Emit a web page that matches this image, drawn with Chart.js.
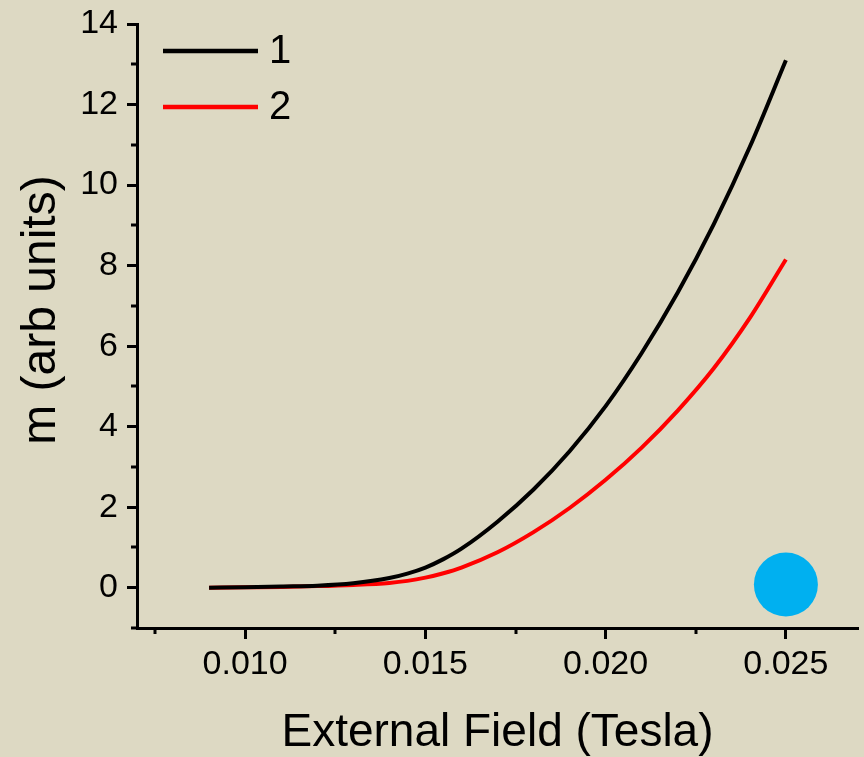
<!DOCTYPE html>
<html>
<head>
<meta charset="utf-8">
<script src="https://cdn.jsdelivr.net/npm/chart.js@4.4.1/dist/chart.umd.min.js"></script>
<style>
  html, body { margin: 0; padding: 0; background: #DDD9C3; }
  #wrap { width: 864px; height: 757px; position: relative; }
</style>
</head>
<body>
<div id="wrap"><canvas id="c" width="864" height="757"></canvas></div>
<script>
// ---- data ----
const field1  = [0.009, 0.010, 0.011, 0.012, 0.013, 0.014, 0.0145, 0.015, 0.0155, 0.016, 0.017, 0.018, 0.019, 0.020, 0.021, 0.022, 0.023, 0.024, 0.025];
const series1 = [0.00, 0.01, 0.03, 0.05, 0.11, 0.24, 0.35, 0.50, 0.71, 0.97, 1.64, 2.44, 3.39, 4.51, 5.83, 7.33, 9.03, 10.95, 13.10];
const field2  = [0.009, 0.010, 0.011, 0.012, 0.013, 0.014, 0.0145, 0.015, 0.0155, 0.016, 0.017, 0.018, 0.019, 0.020, 0.021, 0.022, 0.023, 0.024, 0.025];
const series2 = [0.00, 0.01, 0.02, 0.04, 0.07, 0.12, 0.17, 0.25, 0.36, 0.50, 0.88, 1.38, 1.98, 2.68, 3.48, 4.40, 5.45, 6.70, 8.15];
const seriesNames = ['1', '2'];
const markerField = [0.025];
const markerValue = [0.08];
const xMajorTicks = [0.010, 0.015, 0.020, 0.025];
const xMinorTicks = [0.0075, 0.0125, 0.0175, 0.0225];
const yMajorTicks = [0, 2, 4, 6, 8, 10, 12, 14];
const yMinorTicks = [-1, 1, 3, 5, 7, 9, 11, 13];
const xLabel = 'External Field (Tesla)';
const yLabel = 'm (arb units)';

const FONT = '"Liberation Sans", Arial, sans-serif';

const toPts = (xs, ys) => xs.map((x, i) => ({ x: x, y: ys[i] }));

const extras = {
  id: 'extras',
  afterDraw(chart) {
    const ctx = chart.ctx;
    const xs = chart.scales.x, ys = chart.scales.y;
    const ca = chart.chartArea;
    ctx.save();
    // minor ticks
    ctx.strokeStyle = '#000';
    ctx.lineWidth = 3;
    ctx.lineCap = 'butt';
    xMinorTicks.forEach(v => {
      const px = Math.round(xs.getPixelForValue(v));
      ctx.beginPath(); ctx.moveTo(px, ca.bottom); ctx.lineTo(px, ca.bottom + 6); ctx.stroke();
    });
    yMinorTicks.forEach(v => {
      const py = Math.round(ys.getPixelForValue(v));
      ctx.beginPath(); ctx.moveTo(ca.left, py); ctx.lineTo(ca.left - 6, py); ctx.stroke();
    });
    // y axis title
    ctx.fillStyle = '#000';
    ctx.font = '48px ' + FONT;
    ctx.textAlign = 'center';
    ctx.textBaseline = 'middle';
    ctx.translate(42, 310);
    ctx.rotate(-Math.PI / 2);
    ctx.fillText(yLabel, 0, 0);
    ctx.restore();

    // legend inside plot
    ctx.save();
    ctx.font = '40px ' + FONT;
    ctx.textBaseline = 'middle';
    ctx.textAlign = 'left';
    chart.data.datasets.slice(0, 2).forEach((ds, i) => {
      const y = ca.top + 27 + i * 56;
      ctx.strokeStyle = ds.borderColor;
      ctx.lineWidth = 4.5;
      ctx.beginPath(); ctx.moveTo(ca.left + 26, y); ctx.lineTo(ca.left + 121, y); ctx.stroke();
      ctx.fillStyle = '#000';
      ctx.fillText(ds.label, ca.left + 132, y + 1);
    });
    ctx.restore();
  }
};

new Chart(document.getElementById('c'), {
  type: 'line',
  data: {
    datasets: [
      { label: seriesNames[0], data: toPts(field1, series1), borderColor: '#000000', borderWidth: 4, pointRadius: 0, cubicInterpolationMode: 'monotone', fill: false },
      { label: seriesNames[1], data: toPts(field2, series2), borderColor: '#FF0000', borderWidth: 4, pointRadius: 0, cubicInterpolationMode: 'monotone', fill: false },
      { type: 'scatter', label: 'marker', data: toPts(markerField, markerValue), backgroundColor: '#00B0F0', borderWidth: 0, pointRadius: 32, clip: false }
    ]
  },
  options: {
    responsive: false,
    animation: false,
    devicePixelRatio: 1,
    layout: { autoPadding: false, padding: { top: 24, right: 6, left: 0, bottom: 0 } },
    plugins: { legend: { display: false }, tooltip: { enabled: false } },
    scales: {
      x: {
        type: 'linear',
        min: 0.007, max: 0.027,
        afterBuildTicks: s => { s.ticks = xMajorTicks.map(v => ({ value: v })); },
        afterFit: s => { s.height = 129; s.paddingLeft = 0; s.paddingRight = 0; },
        ticks: { color: '#000', font: { family: FONT, size: 34 }, padding: 5, maxRotation: 0, autoSkip: false,
                 callback: v => Number(v).toFixed(3) },
        grid: { drawOnChartArea: false, drawTicks: true, tickLength: 11, tickWidth: 3, tickColor: '#000' },
        border: { display: true, color: '#000', width: 3 },
        title: { display: true, text: xLabel, color: '#000', font: { family: FONT, size: 46 }, padding: { top: 0, bottom: -4 } }
      },
      y: {
        type: 'linear',
        min: -1, max: 14,
        afterBuildTicks: s => { s.ticks = yMajorTicks.map(v => ({ value: v })); },
        afterFit: s => { s.width = 137; s.paddingTop = 0; s.paddingBottom = 0; },
        ticks: { color: '#000', font: { family: FONT, size: 34 }, padding: 9, autoSkip: false,
                 callback: v => String(v) },
        grid: { drawOnChartArea: false, drawTicks: true, tickLength: 10, tickWidth: 3, tickColor: '#000' },
        border: { display: true, color: '#000', width: 3 },
        title: { display: false }
      }
    }
  },
  plugins: [extras]
});
</script>
</body>
</html>
